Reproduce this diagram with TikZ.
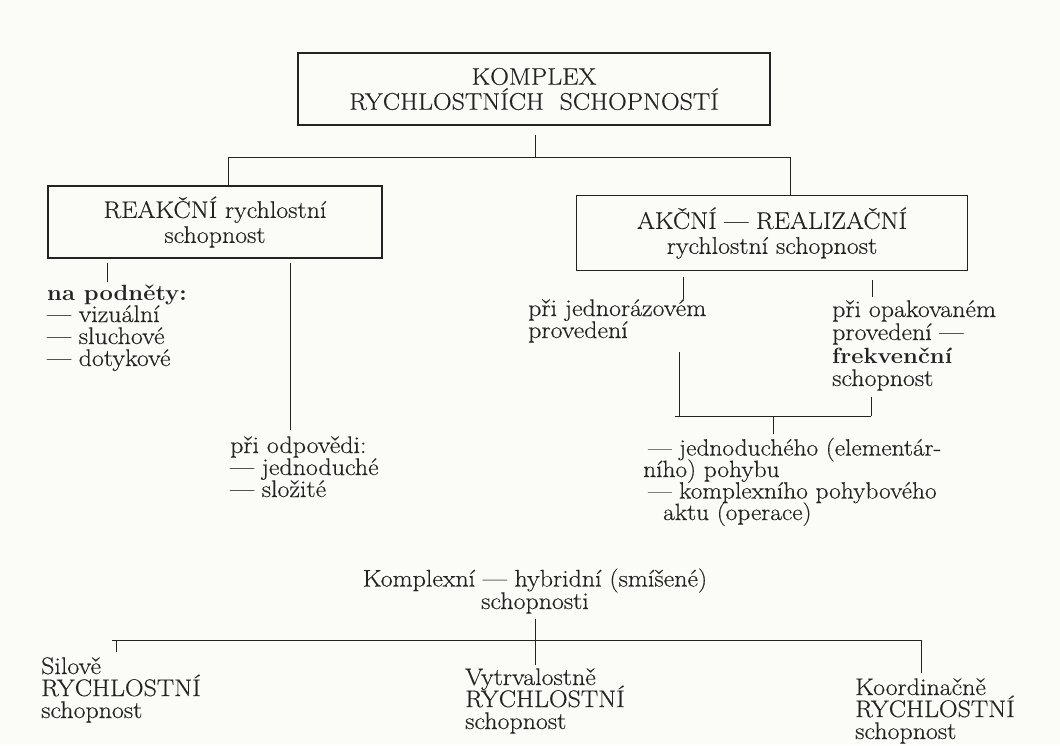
\documentclass[tikz,border=0pt]{standalone}
\usepackage{fontspec}
\setmainfont{Latin Modern Roman}[FakeStretch=1.08, UprightFeatures={FakeBold=0.4}]
\usepackage{xcolor}
\definecolor{paper}{RGB}{251,251,248}
\definecolor{ink}{RGB}{35,35,35}
\newcommand{\tightlines}{\lineskiplimit=-40pt\relax}
\begin{document}
\begin{tikzpicture}[x=1pt,y=-1pt,
  every node/.style={text=ink, inner sep=0pt},
  txt/.style={font=\fontsize{24}{22}\selectfont\tightlines, align=left, anchor=base west},
  ctxt/.style={font=\fontsize{24}{22.5}\selectfont\tightlines, align=center, anchor=base},
  box/.style={draw=ink, line width=1.3pt, font=\fontsize{24}{25}\selectfont\tightlines, align=center},
  link/.style={draw=ink, line width=1pt}]
\fill[paper] (0,0) rectangle (1060,745);
\useasboundingbox (0,0) rectangle (1060,745);

% boxes
\node[box, minimum width=472pt, minimum height=72pt] (top) at (534,89)
  {KOMPLEX\\RYCHLOSTNÍCH\ \ SCHOPNOSTÍ};
\node[box, minimum width=334pt, minimum height=72pt] (reak) at (215,222)
  {REAKČNÍ rychlostní\\schopnost};
\node[box, minimum width=391pt, minimum height=75pt] (akc) at (772,233)
  {AKČNÍ — REALIZAČNÍ\\rychlostní schopnost};

% text blocks (each placed at the baseline of its last line)
\node[txt] (podnety) at (47,366)
  {\textbf{\fontsize{22}{22}\selectfont na podněty:}\\— vizuální\\— sluchové\\— dotykové};
\node[txt] (odpovedi) at (230,497) {při odpovědi:\\— jednoduché\\— složité};
\node[txt] (jednor) at (528,338) {při jednorázovém\\provedení};
\node[txt, font=\fontsize{24}{23}\selectfont\tightlines] (opak) at (832,386)
  {při opakovaném\\provedení —\\\textbf{\fontsize{22}{23}\selectfont frekvenční}\\schopnost};
\node[txt, font=\fontsize{23.5}{21.5}\selectfont\tightlines] (pohyb) at (643,520)
  {\hspace{5pt}— jednoduchého (elementár-\\ního) pohybu\\\hspace{5pt}— komplexního pohybového\\\hspace{20pt}aktu (operace)};
\node[ctxt] (hybrid) at (535,609) {Komplexní — hybridní (smíšené)\\schopnosti};
\node[txt] (silove) at (41,718) {Silově\\RYCHLOSTNÍ\\schopnost};
\node[txt] (vytrv) at (465,729) {Vytrvalostně\\RYCHLOSTNÍ\\schopnost};
\node[txt] (koord) at (855,739) {Koordinačně\\RYCHLOSTNÍ\\schopnost};

% upper tree
\coordinate (tj) at (535,157);
\coordinate (tl) at (228,157);
\coordinate (tr) at (790,157);
\draw[link, shorten <=9pt] (tj |- top.south) -- (tj);
\draw[link] (tl) -- (tr);
\draw[link] (tl) -- (tl |- reak.north);
\draw[link] (tr) -- (tr |- akc.north);

% reaction branch
\coordinate (rl) at (107,0);
\coordinate (rr) at (290,0);
\draw[link, shorten <=4pt, shorten >=2pt] (rl |- reak.south) -- (rl |- podnety.north);
\draw[link, shorten <=4pt, shorten >=6pt] (rr |- reak.south) -- (rr |- odpovedi.north);

% action branch
\coordinate (al) at (683,0);
\coordinate (ar) at (872,0);
\draw[link, shorten <=6pt] (al |- akc.south) -- (al |- jednor.north);
\draw[link, shorten <=9pt, shorten >=3pt] (ar |- akc.south) -- (ar |- opak.north);
\coordinate (ml) at (679,416);
\coordinate (mr) at (871,416);
\coordinate (mc) at (773,416);
\draw[link, shorten <=9pt] (ml |- jednor.south) -- (ml);
\draw[link, shorten <=6pt] (mr |- opak.south) -- (mr);
\draw[link] ([xshift=-4pt]ml) -- (mr);
\draw[link, shorten >=4pt] (mc) -- (mc |- pohyb.north);

% hybrid abilities
\coordinate (bc) at (535,640);
\coordinate (bl) at (116,640);
\coordinate (br) at (921,640);
\draw[link] ([xshift=-4pt]bl) -- ([xshift=1pt]br);
\draw[link, shorten <=5pt, shorten >=3pt] (bc |- hybrid.south) -- (bc |- vytrv.north);
\draw[link, shorten >=5pt] (bl) -- (bl |- silove.north);
\draw[link, shorten >=5pt] (br) -- (br |- koord.north);
\end{tikzpicture}
\end{document}
